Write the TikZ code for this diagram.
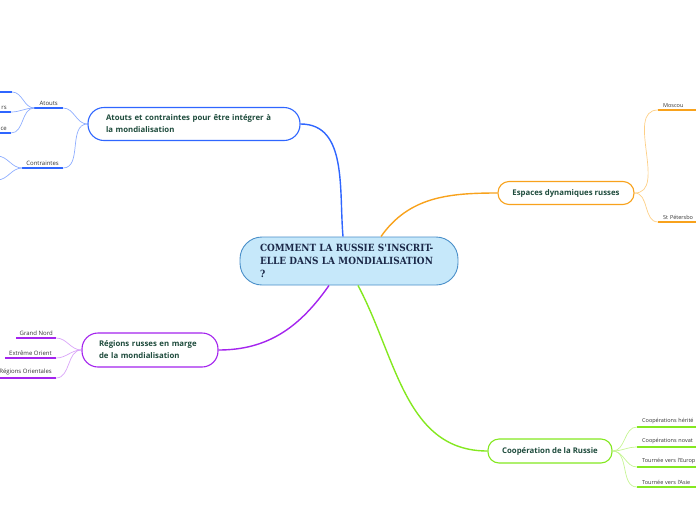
\documentclass[tikz,border=0pt]{standalone}
\usepackage{fontspec}
\setmainfont{Open Sans}
\newfontfamily\slabfont{DejaVu Serif Condensed}
\usepackage{xcolor,tikz}
\definecolor{bluebr}{HTML}{2F66FF}
\definecolor{bluelt}{HTML}{8FAEFF}
\definecolor{orangebr}{HTML}{F8A21C}
\definecolor{orangelt}{HTML}{FDCF86}
\definecolor{purplebr}{HTML}{A424EE}
\definecolor{purplelt}{HTML}{D9A4F8}
\definecolor{greenbr}{HTML}{84E820}
\definecolor{greenlt}{HTML}{C6F594}
\definecolor{centfill}{HTML}{C6E8FA}
\definecolor{centline}{HTML}{4A8FC9}
\definecolor{titlegreen}{HTML}{1E4B3C}
\definecolor{centtext}{HTML}{1B2848}
\definecolor{leafgray}{HTML}{333333}
\tikzset{
  branch/.style={draw=#1,line width=1.1pt,fill=white,text=titlegreen,align=left,
    font=\fontsize{7.8}{12}\selectfont\bfseries},
  leafl/.style={anchor=south east,inner xsep=4pt,inner ysep=2.5pt,text=leafgray,
    font=\fontsize{6}{6.5}\selectfont},
  leafr/.style={anchor=south west,inner xsep=5pt,inner ysep=2.5pt,text=leafgray,
    text width=90pt,align=left,font=\fontsize{5.5}{6.5}\selectfont},
  limb/.style={line width=1.4pt},
  twig/.style={line width=.7pt},
  under/.style={line width=1.8pt}
}
\begin{document}
\begin{tikzpicture}[x=1pt,y=-1pt]
\useasboundingbox (0,0) rectangle (696,520);
\clip (0,0) rectangle (696,520);
\node[draw=centline,fill=centfill,line width=.9pt,rounded corners=22pt,minimum height=48pt,
  text width=178pt,inner xsep=20pt,align=left,text=centtext,
  font=\slabfont\fontsize{9.9}{13}\selectfont\bfseries] (cen) at (349,261)
  {COMMENT LA RUSSIE S'INSCRIT-\\ELLE DANS LA MONDIALISATION\\?};
\node[branch=bluebr,rounded corners=16pt,minimum height=33pt,text width=176pt,inner xsep=18pt] (atc) at (194,124)
  {Atouts et contraintes pour être intégrer à\\la mondialisation};
\node[branch=orangebr,rounded corners=11pt,minimum height=23pt,minimum width=136pt,align=center] (esp) at (566,193)
  {Espaces dynamiques russes};
\node[branch=purplebr,rounded corners=16pt,minimum height=34pt,text width=102pt,inner xsep=17pt] (reg) at (150,350)
  {Régions russes en marge\\de la mondialisation};
\node[branch=greenbr,rounded corners=11pt,minimum height=24pt,minimum width=124pt,align=center] (coop) at (550,451)
  {Coopération de la Russie};
\draw[limb,bluebr] ([xshift=-6pt]cen.north) to[out=95,in=0] (atc.east);
\draw[limb,orangebr] ([xshift=32pt]cen.north) to[out=55,in=180] (esp.west);
\draw[limb,purplebr] ([xshift=-20pt]cen.south) to[out=235,in=0] (reg.east);
\draw[limb,greenbr] ([xshift=9pt]cen.south) to[out=-62,in=180] (coop.west);
\node[leafl,minimum width=18pt] (at0) at (12,92) {};
\node[leafl] (at1) at (11,112) {rs};
\node[leafl] (at2) at (11,133) {ce};
\node[leafl,inner xsep=5pt] (atouts) at (63,108) {Atouts};
\node[leafl] (contr) at (63,168) {Contraintes};
\coordinate (ct1) at (-3,156);
\coordinate (ct2) at (-3,180);
\node[leafr] (mosc) at (658,110) {Moscou};
\node[leafr] (stp) at (658,222) {St Pétersbo};
\node[leafl,inner xsep=3pt] (gn) at (56,338) {Grand Nord};
\node[leafl] (eo) at (56,358) {Extrême Orient};
\node[leafl] (ro) at (56,378) {Régions Orientales};
\node[leafr] (c1) at (637,427) {Coopérations hérité};
\node[leafr] (c2) at (637,447) {Coopérations novat};
\node[leafr] (c3) at (637,467) {Tournée vers l'Europ};
\node[leafr] (c4) at (637,487) {Tournée vers l'Asie};
\foreach \n in {at0,at1,at2,atouts,contr}
  \draw[under,bluebr] (\n.south west) -- (\n.south east);
\foreach \n in {mosc,stp}
  \draw[under,orangebr] (\n.south west) -- (\n.south east);
\foreach \n in {gn,eo,ro}
  \draw[under,purplebr] (\n.south west) -- (\n.south east);
\foreach \n in {c1,c2,c3,c4}
  \draw[under,greenbr] (\n.south west) -- (\n.south east);
\foreach \n in {atouts,contr}
  \draw[twig,bluelt] (atc.west) to[out=180,in=0] (\n.south east);
\foreach \n in {at0,at1,at2}
  \draw[twig,bluelt] (atouts.south west) to[out=180,in=0] (\n.south east);
\foreach \n in {ct1,ct2}
  \draw[twig,bluelt] (contr.south west) to[out=180,in=0] (\n);
\foreach \n in {mosc,stp}
  \draw[twig,orangelt] (esp.east) to[out=0,in=180] (\n.south west);
\foreach \n in {gn,eo,ro}
  \draw[twig,purplelt] (reg.west) to[out=180,in=0] (\n.south east);
\foreach \n in {c1,c2,c3,c4}
  \draw[twig,greenlt] (coop.east) to[out=0,in=180] (\n.south west);
\end{tikzpicture}
\end{document}
